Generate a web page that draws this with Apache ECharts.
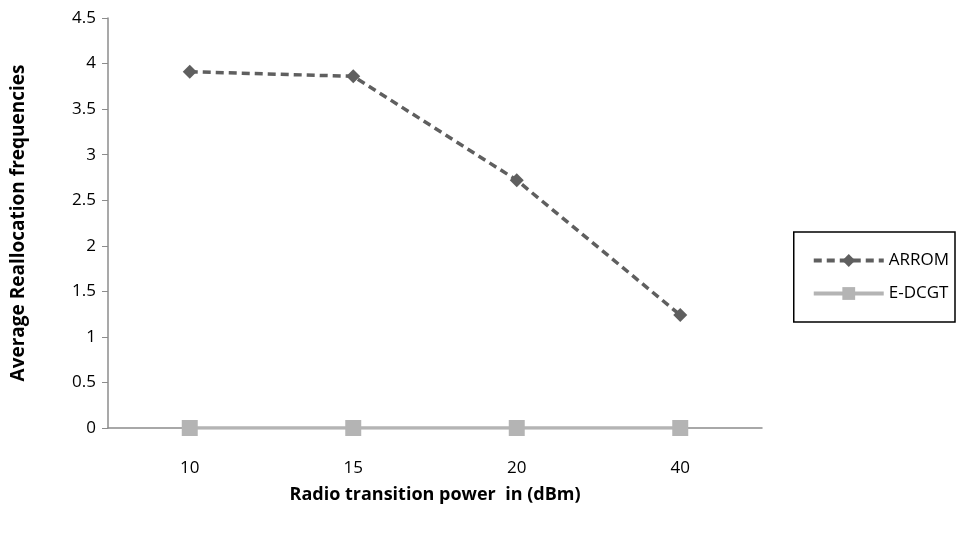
<!DOCTYPE html>
<html><head><meta charset="utf-8">
<script src="https://cdn.jsdelivr.net/npm/echarts@6/dist/echarts.min.js"></script>
<style>html,body{margin:0;padding:0;background:#fff}#c{width:958px;height:533px}</style>
</head><body><div id="c"></div>
<script>
const categories = ['10', '15', '20', '40'];
const arrom = [3.91, 3.86, 2.72, 1.24];
const edcgt = [0, 0, 0, 0];
const yTicks = [0, 0.5, 1, 1.5, 2, 2.5, 3, 3.5, 4, 4.5];

const chart = echarts.init(document.getElementById('c'));
const font = 'Open Sans, Liberation Sans, sans-serif';
chart.setOption({
  animation: false,
  backgroundColor: '#fff',
  grid: {left: 108, right: 196, top: 18, bottom: 105, containLabel: false, outerBoundsMode: 'none'},
  legend: {
    orient: 'vertical', right: 3, top: 232,
    padding: [20, 6, 20, 18],
    borderColor: '#000', borderWidth: 1.5,
    itemWidth: 70, itemHeight: 16, itemGap: 16,
    lineStyle: {width: 4},
    textStyle: {fontFamily: font, fontSize: 17, color: '#000'},
    data: ['ARROM', 'E-DCGT']
  },
  xAxis: {
    type: 'category', data: categories, boundaryGap: true,
    name: 'Radio transition power  in (dBm)', nameLocation: 'middle', nameGap: 58,
    nameTextStyle: {fontFamily: font, fontSize: 18, fontWeight: 'bold', color: '#000'},
    axisLine: {lineStyle: {color: '#8c8c8c', width: 1.5}},
    axisTick: {show: false},
    axisLabel: {fontFamily: font, fontSize: 17, color: '#000', margin: 32}
  },
  yAxis: {
    type: 'value', min: 0, max: 4.5, interval: 0.5,
    name: 'Average Reallocation frequencies', nameLocation: 'middle', nameGap: 80,
    nameTextStyle: {fontFamily: font, fontSize: 19, fontWeight: 'bold', color: '#000'},
    axisLine: {show: true, lineStyle: {color: '#8c8c8c', width: 1.5}},
    axisTick: {show: true, length: 6, lineStyle: {color: '#8c8c8c'}},
    splitLine: {show: false},
    axisLabel: {fontFamily: font, fontSize: 17, color: '#000', margin: 12,
      formatter: v => yTicks.includes(v) ? String(v) : ''}
  },
  series: [
    {name: 'ARROM', type: 'line', data: arrom,
     symbol: 'diamond', symbolSize: 14,
     lineStyle: {color: '#5f5f5f', width: 3.5, type: [8, 5]},
     itemStyle: {color: '#5f5f5f'}},
    {name: 'E-DCGT', type: 'line', data: edcgt,
     symbol: 'rect', symbolSize: 16,
     lineStyle: {color: '#b4b4b4', width: 3.5},
     itemStyle: {color: '#b4b4b4'}}
  ]
});
</script></body></html>
